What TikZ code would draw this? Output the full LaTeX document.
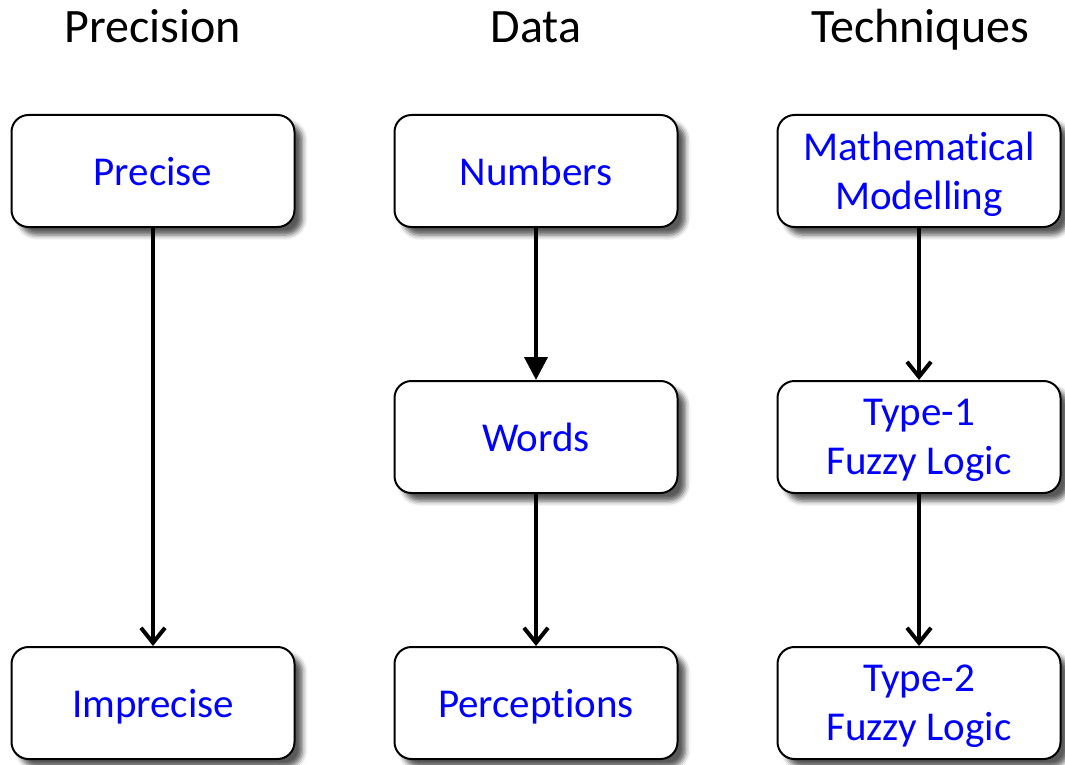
\documentclass[tikz,border=0pt]{standalone}
\usepackage{fontspec}
\setmainfont[Ligatures={NoCommon}]{Carlito}
\usetikzlibrary{arrows.meta,shadows.blur}
\tikzset{
  stage/.style={draw=black, line width=2pt, rounded corners=17pt, fill=white,
    minimum width=283pt, minimum height=112pt, align=center, text=blue,
    text depth=0pt, font=\fontsize{41}{49}\selectfont,
    blur shadow={shadow xshift=8pt, shadow yshift=-8pt, shadow blur radius=5pt, shadow opacity=65}},
  heading/.style={font=\fontsize{48}{58}\selectfont, text=black, anchor=base},
  flow/.style={line width=4pt, -{Straight Barb[width=24pt,length=15pt]}},
  solidflow/.style={line width=4pt, -{Triangle[width=23pt,length=23pt]}}
}
\begin{document}
\begin{tikzpicture}[x=1pt,y=-1pt]
\useasboundingbox (0,0) rectangle (1065,765);

% column headings
\node[heading] (hprec) at (153,43) {Precision};
\node[heading] (hdata) at (536,43) {Data};
\node[heading] (htech) at (920,43) {Techniques};

% precision column
\node[stage] (precise) at (153,171) {Precise};
\node[stage] (imprecise) at (153,703) {Imprecise};

% data column
\node[stage] (numbers) at (536,171) {Numbers};
\node[stage] (words) at (536,437) {Words};
\node[stage] (perceptions) at (536,703) {Perceptions};

% techniques column
\node[stage] (math) at (919,171) {Mathematical\\Modelling};
\node[stage] (type1) at (919,437) {Type-1\\Fuzzy Logic};
\node[stage] (type2) at (919,703) {Type-2\\Fuzzy Logic};

% connectors
\draw[flow] (precise) -- (imprecise);
\draw[solidflow] (numbers) -- (words);
\draw[flow] (words) -- (perceptions);
\draw[flow] (math) -- (type1);
\draw[flow] (type1) -- (type2);
\end{tikzpicture}
\end{document}
